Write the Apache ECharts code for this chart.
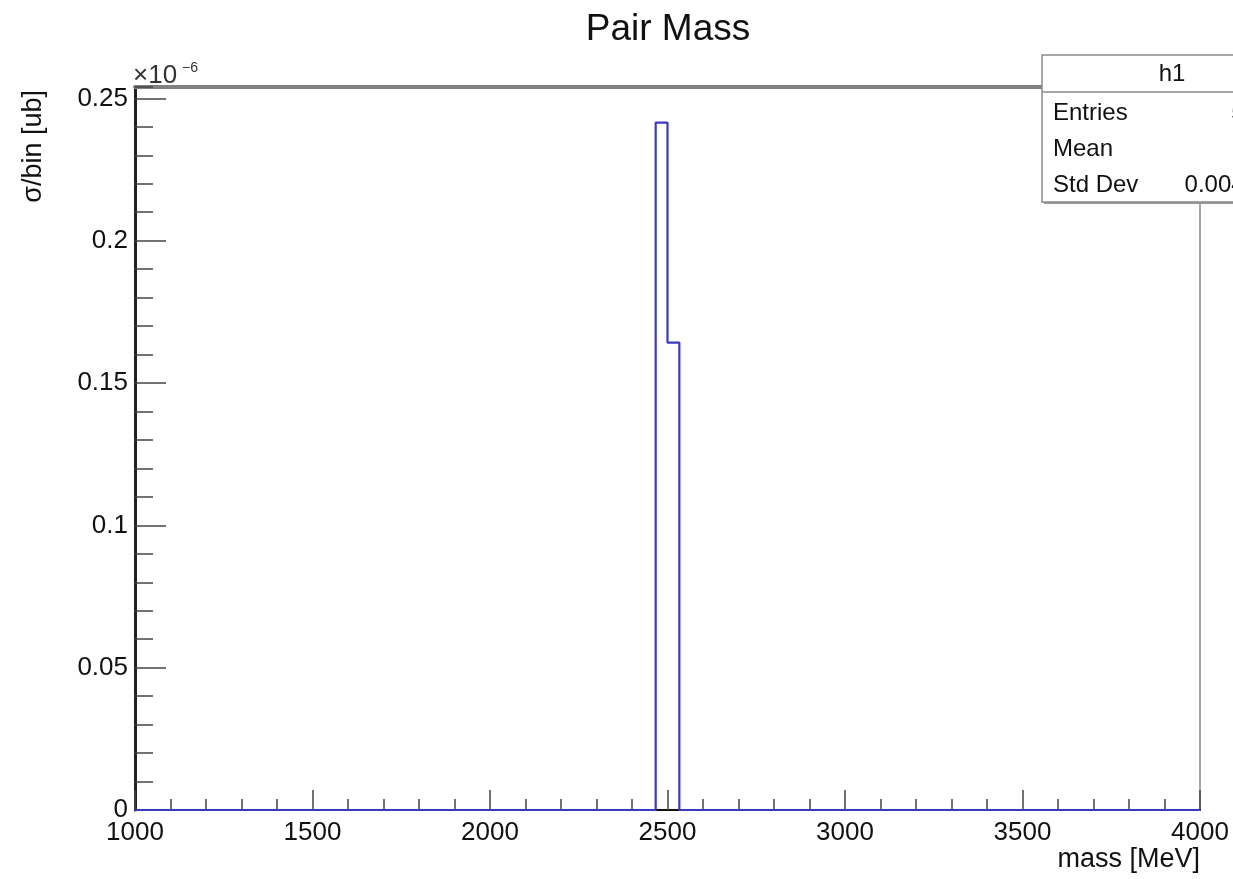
<!DOCTYPE html>
<html>
<head>
<meta charset="utf-8">
<script src="https://cdn.jsdelivr.net/npm/echarts@6/dist/echarts.min.js"></script>
<style>
html,body{margin:0;padding:0;background:#fff;}
#main{width:1233px;height:879px;}
</style>
</head>
<body>
<div id="main"></div>
<script>
// ---- data (y values in units of 1e-6 ub) ----
const xRange = [1000, 4000];
const yRange = [0, 0.254];
const xTickInterval = 500;
const yTickInterval = 0.05;
const yMinorInterval = 0.01;
const binEdges = [2466.67, 2500, 2533.33];
const binContents = [0.2415, 0.1642];
const statsLabels = ['Entries', 'Mean', 'Std Dev'];
const statsValues = ['50000', '2497', '0.0049295'];
const chartTitle = 'Pair Mass';
const xTitle = 'mass [MeV]';
const yTitle = 'σ/bin [ub]';

// build histogram outline from bins
const outline = [[xRange[0], 0], [binEdges[0], 0]];
for (let i = 0; i < binContents.length; i++) {
  outline.push([binEdges[i], binContents[i]]);
  outline.push([binEdges[i + 1], binContents[i]]);
}
outline.push([binEdges[binEdges.length - 1], 0]);
outline.push([xRange[1], 0]);

const FONT = 'Liberation Sans, Arial, Helvetica, sans-serif';
const chart = echarts.init(document.getElementById('main'), null, {renderer: 'canvas'});

const boxL = 1042, boxT = 55, boxW = 262, boxH = 147;

const option = {
  animation: false,
  backgroundColor: '#ffffff',
  grid: {left: 135, right: 33, top: 87, bottom: 69, containLabel: false},
  xAxis: [{
    type: 'value', min: xRange[0], max: xRange[1], interval: xTickInterval,
    position: 'bottom',
    axisLine: {show: true, onZero: false, lineStyle: {color: '#111', width: 2}},
    axisTick: {show: true, inside: true, length: 20, lineStyle: {color: '#444', width: 1.5}},
    minorTick: {show: true, splitNumber: 5, length: 11, lineStyle: {color: '#444', width: 1.5}},
    axisLabel: {color: '#111', fontFamily: FONT, fontSize: 26, margin: 10,
      formatter: v => String(v)},
    splitLine: {show: false}
  }, {
    type: 'value', min: xRange[0], max: xRange[1], interval: xTickInterval,
    position: 'top',
    axisLine: {show: true, onZero: false, lineStyle: {color: '#808080', width: 4}},
    axisTick: {show: false}, axisLabel: {show: false}, splitLine: {show: false}
  }],
  yAxis: [{
    type: 'value', min: yRange[0], max: yRange[1], interval: yTickInterval,
    position: 'left',
    axisLine: {show: true, onZero: false, lineStyle: {color: '#222', width: 3}},
    axisTick: {show: true, inside: true, length: 31, lineStyle: {color: '#444', width: 1.5}},
    axisLabel: {color: '#111', fontFamily: FONT, fontSize: 26, margin: 7, showMaxLabel: false,
      formatter: v => String(v)},
    splitLine: {show: false}
  }, {
    type: 'value', min: yRange[0], max: yRange[1], interval: yMinorInterval,
    position: 'left', offset: 0,
    axisLine: {show: false},
    axisTick: {show: true, inside: true, length: 18, lineStyle: {color: '#444', width: 1.5}},
    axisLabel: {show: false}, splitLine: {show: false}
  }, {
    type: 'value', min: yRange[0], max: yRange[1], interval: yTickInterval,
    position: 'right',
    axisLine: {show: true, onZero: false, lineStyle: {color: '#8a8a8a', width: 1.5}},
    axisTick: {show: false}, axisLabel: {show: false}, splitLine: {show: false}
  }],
  series: [{
    type: 'line',
    xAxisIndex: 0, yAxisIndex: 0,
    data: outline,
    symbol: 'none',
    lineStyle: {color: '#3a3ac0', width: 2.2},
    clip: false,
    z: 3
  }],
  graphic: [
    {type: 'text', x: 668, y: 30, z: 10,
     style: {text: chartTitle, font: '37px ' + FONT, fill: '#111', align: 'center', verticalAlign: 'middle'}},
    {type: 'text', x: 34, y: 90, rotation: Math.PI / 2, z: 10,
     style: {text: yTitle, font: '27px ' + FONT, fill: '#111', align: 'right', verticalAlign: 'middle'}},
    {type: 'text', x: 1200, y: 860, z: 10,
     style: {text: xTitle, font: '27px ' + FONT, fill: '#111', align: 'right', verticalAlign: 'middle'}},
    {type: 'text', x: 133, y: 76, z: 10,
     style: {text: '{b|×10}{s|−6}', fill: '#333', align: 'left', verticalAlign: 'middle',
       rich: {b: {font: '26px ' + FONT, fill: '#333'}, s: {font: '14px ' + FONT, fill: '#333', padding: [0, 0, 16, 5]}}}},
    // stats box
    {type: 'rect', z: 20, shape: {x: boxL + 2, y: boxT + 2, width: boxW, height: boxH},
     style: {fill: '#9a9a9a', stroke: null}},
    {type: 'rect', z: 21, shape: {x: boxL, y: boxT, width: boxW, height: boxH},
     style: {fill: '#ffffff', stroke: '#8a8a8a', lineWidth: 1.5}},
    {type: 'line', z: 22, shape: {x1: boxL, y1: 92, x2: boxL + boxW, y2: 92},
     style: {stroke: '#8a8a8a', lineWidth: 1.5}},
    {type: 'text', x: 1172, y: 74, z: 23,
     style: {text: 'h1', font: '24px ' + FONT, fill: '#111', align: 'center', verticalAlign: 'middle'}},
    ...statsLabels.map((t, i) => ({type: 'text', x: 1053, y: 113 + i * 36, z: 23,
      style: {text: t, font: '24px ' + FONT, fill: '#111', align: 'left', verticalAlign: 'middle'}})),
    ...statsValues.map((t, i) => ({type: 'text', x: 1298, y: 113 + i * 36, z: 23,
      style: {text: t, font: '24px ' + FONT, fill: '#111', align: 'right', verticalAlign: 'middle'}}))
  ]
};
chart.setOption(option);
</script>
</body>
</html>
